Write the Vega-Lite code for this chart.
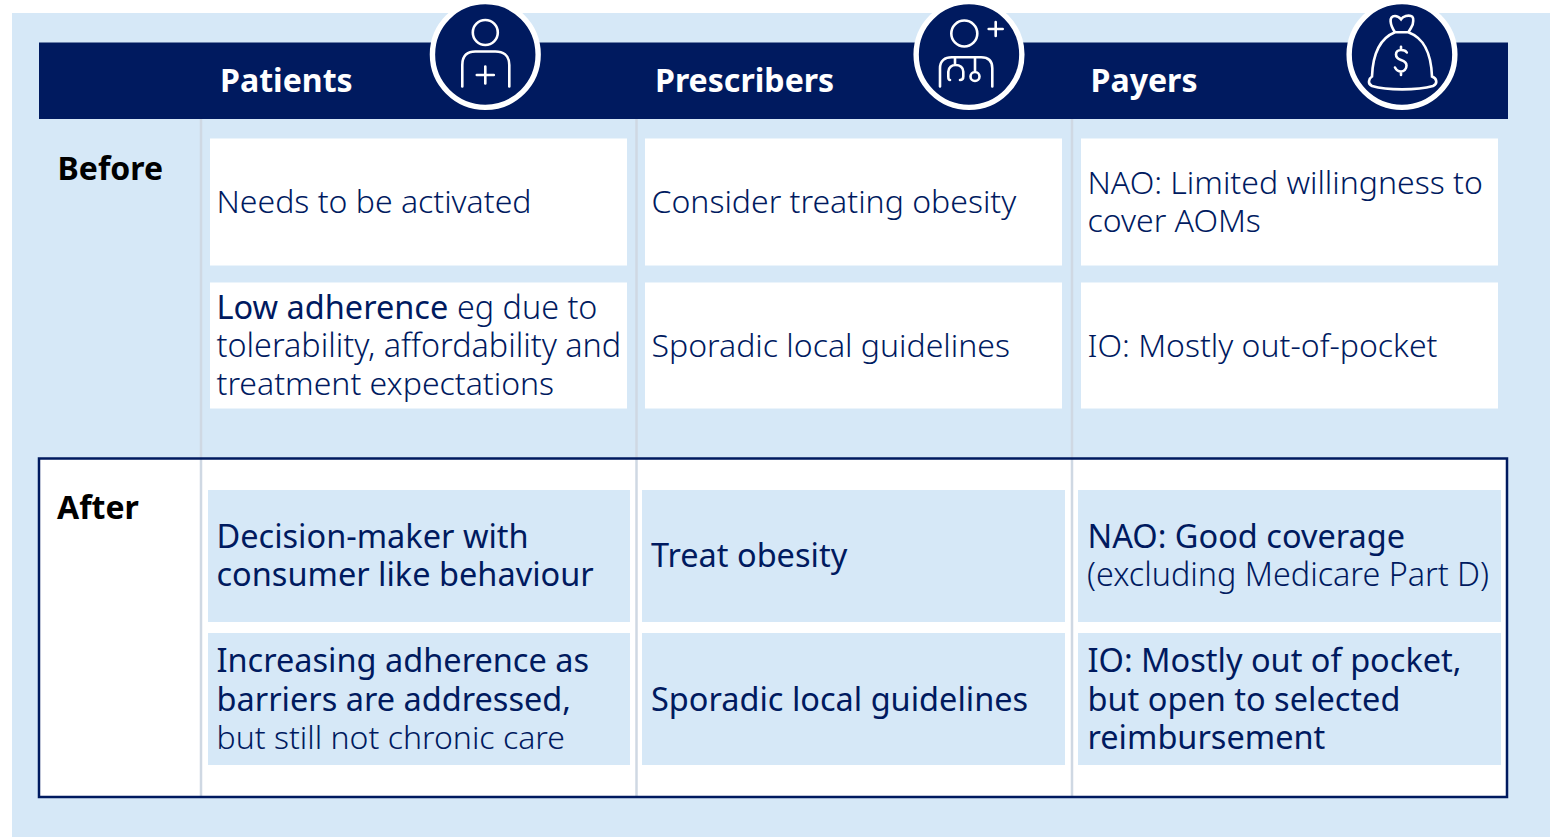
{
"$schema":"https://vega.github.io/schema/vega-lite/v6.json",
"width":1557,"height":837,"padding":0,
"autosize":{"type":"none"},
"background":"#ffffff",
"config":{"view":{"stroke":null},"font":"Noto Sans"},
"datasets":{
"blocks":[
{"part":"panel","x":12,"x2":1550,"y":13,"y2":837},
{"part":"header","x":39,"x2":1508,"y":42.5,"y2":119}
],
"box":[{"part":"after","x":39,"x2":1507,"y":458.5,"y2":797}],
"dividers":[{"x":201,"y":119,"y2":797},{"x":636.5,"y":119,"y2":797},{"x":1072,"y":119,"y2":797}],
"cells":[
{"part":"Before","x":210,"x2":627,"y":138.5,"y2":265.5},
{"part":"Before","x":645,"x2":1062,"y":138.5,"y2":265.5},
{"part":"Before","x":1081,"x2":1498,"y":138.5,"y2":265.5},
{"part":"Before","x":210,"x2":627,"y":282.5,"y2":408.5},
{"part":"Before","x":645,"x2":1062,"y":282.5,"y2":408.5},
{"part":"Before","x":1081,"x2":1498,"y":282.5,"y2":408.5},
{"part":"After","x":208,"x2":630,"y":490,"y2":622},
{"part":"After","x":642,"x2":1065,"y":490,"y2":622},
{"part":"After","x":1078,"x2":1501,"y":490,"y2":622},
{"part":"After","x":208,"x2":630,"y":633,"y2":765},
{"part":"After","x":642,"x2":1065,"y":633,"y2":765},
{"part":"After","x":1078,"x2":1501,"y":633,"y2":765}
],
"icons":[
{"role":"Patients","x":485.3,"y":54.5},
{"role":"Prescribers","x":969,"y":54.5},
{"role":"Payers","x":1402,"y":54.5}
],
"texts":[
{"kind":"head","text":"Patients","x":220,"y":92},
{"kind":"head","text":"Prescribers","x":655,"y":92},
{"kind":"head","text":"Payers","x":1090.5,"y":92},
{"kind":"row","text":"Before","x":57.5,"y":180},
{"kind":"row","text":"After","x":57,"y":519},
{"kind":"light","text":"Needs to be activated","x":216.5,"y":213},
{"kind":"light","text":"Consider treating obesity","x":651.5,"y":213},
{"kind":"light","text":"NAO: Limited willingness to","x":1087.5,"y":194},
{"kind":"light","text":"cover AOMs","x":1087.5,"y":232},
{"kind":"strong","text":"Low adherence","x":216.5,"y":319},
{"kind":"wide","text":"eg due to","x":457,"y":319},
{"kind":"wide","text":"tolerability, affordability and","x":216.5,"y":357},
{"kind":"light","text":"treatment expectations","x":216.5,"y":395},
{"kind":"light","text":"Sporadic local guidelines","x":651.5,"y":357},
{"kind":"light","text":"IO: Mostly out-of-pocket","x":1087.5,"y":357},
{"kind":"strong","text":"Decision-maker with","x":216.5,"y":548},
{"kind":"strong","text":"consumer like behaviour","x":216.5,"y":586},
{"kind":"strong","text":"Treat obesity","x":651,"y":567},
{"kind":"strong","text":"NAO: Good coverage","x":1087.5,"y":548},
{"kind":"wide","text":"(excluding Medicare Part D)","x":1087,"y":586},
{"kind":"strong","text":"Increasing adherence as","x":216.5,"y":672},
{"kind":"strong","text":"barriers are addressed,","x":216.5,"y":711},
{"kind":"light","text":"but still not chronic care","x":216.5,"y":749},
{"kind":"strong","text":"Sporadic local guidelines","x":651,"y":711},
{"kind":"strong","text":"IO: Mostly out of pocket,","x":1087.5,"y":672},
{"kind":"strong","text":"but open to selected","x":1087.5,"y":711},
{"kind":"strong","text":"reimbursement","x":1087.5,"y":749}
]
},
"data":{"name":"blocks"},
"encoding":{
"x":{"field":"x","type":"quantitative","scale":{"domain":[0,1557],"nice":false,"zero":false},"axis":null},
"y":{"field":"y","type":"quantitative","scale":{"domain":[837,0],"nice":false,"zero":false},"axis":null}
},
"layer":[
{"data":{"name":"blocks"},"mark":{"type":"rect"},
 "encoding":{"x2":{"field":"x2"},"y2":{"field":"y2"},
 "color":{"field":"part","type":"nominal","scale":{"domain":["panel","header","Before","After"],"range":["#d6e8f7","#001a5f","#ffffff","#d6e8f7"]},"legend":null}}},
{"data":{"name":"box"},"mark":{"type":"rect","fill":"#ffffff"},
 "encoding":{"x2":{"field":"x2"},"y2":{"field":"y2"}}},
{"data":{"name":"dividers"},"mark":{"type":"rule","stroke":"#cfd8e3","strokeWidth":2.5},
 "encoding":{"y2":{"field":"y2"}}},
{"data":{"name":"box"},"mark":{"type":"rect","fillOpacity":0,"fill":"#ffffff","stroke":"#001a5f","strokeWidth":2.5},
 "encoding":{"x2":{"field":"x2"},"y2":{"field":"y2"}}},
{"data":{"name":"cells"},"mark":{"type":"rect"},
 "encoding":{"x2":{"field":"x2"},"y2":{"field":"y2"},
 "color":{"field":"part","type":"nominal","scale":{"domain":["panel","header","Before","After"],"range":["#d6e8f7","#001a5f","#ffffff","#d6e8f7"]},"legend":null}}},
{"data":{"name":"icons"},"mark":{"type":"point","shape":"circle","filled":true,"fill":"#001a5f","stroke":"#ffffff","strokeWidth":5.4,"opacity":1,"size":11170}},
{"data":{"name":"icons"},"transform":[{"filter":"datum.role=='Patients'"}],
 "mark":{"type":"point","filled":false,"stroke":"#ffffff","strokeWidth":2.6,"opacity":1,"strokeCap":"round","size":4,
 "shape":"M-12.5,-22 A12.5,12.5 0 1,0 12.5,-22 A12.5,12.5 0 1,0 -12.5,-22 Z M-23,32 L-23,10.5 C-23,0 -17,-3 -10,-3 L10,-3 C17,-3 24,0 24,10.5 L24,32 M-8.5,20.5 L8.5,20.5 M0,12 L0,29"}},
{"data":{"name":"icons"},"transform":[{"filter":"datum.role=='Prescribers'"}],
 "mark":{"type":"point","filled":false,"stroke":"#ffffff","strokeWidth":2.6,"opacity":1,"strokeCap":"round","size":4,
 "shape":"M-17.7,-21 A13,13 0 1,0 8.3,-21 A13,13 0 1,0 -17.7,-21 Z M19.7,-25.5 L33.7,-25.5 M26.7,-32.5 L26.7,-18.5 M-29,32 L-29,13.8 C-29,6 -24,2.8 -17.3,2.8 L12,2.8 C19,2.8 23.3,6 23.3,13.8 L23.3,32 M-14,2.8 L-14,10.5 M-19,25.5 C-20.5,25.5 -20.7,24 -20.7,22 L-20.7,17.2 C-20.7,13 -17,10.5 -13.5,10.5 C-9,10.5 -5.7,13 -5.7,17.2 L-5.7,22 C-5.7,24 -6.5,25.5 -9,25.5 M6,2.8 L6,17.5 M1.5,22 A4.5,4.5 0 1,0 10.5,22 A4.5,4.5 0 1,0 1.5,22 Z"}},
{"data":{"name":"icons"},"transform":[{"filter":"datum.role=='Payers'"}],
 "mark":{"type":"point","filled":false,"stroke":"#ffffff","strokeWidth":2.6,"opacity":1,"strokeCap":"round","size":4,
 "shape":"M-7,-22.2 C-12,-29.5 -13.7,-38.5 -7,-38.5 C-3.7,-38.5 -1,-35.2 -1,-35.2 C1.3,-38.5 6.3,-39.5 9,-38.5 C12,-37.8 11.3,-32.8 10.7,-30 C9.5,-27 6.3,-22.2 6.3,-22.2 Z M-7,-22.2 C-20,-17 -29,-5 -30,22 C-33,24 -35,29 -30,31.5 C-15,36 15,36 31,31.5 C36,29 35,24 30,22 C29,-5 20,-17 6.3,-22.2 M4.8,-2 C4,-3.5 2,-4.5 -1,-4.5 C-4,-4.5 -6,-2.5 -6,0 C-6,3 -4,4.5 -1,5.5 C2,6.5 4.5,8 4.5,11 C4.5,14.5 2,17 -1,17 C-4,17 -6,15 -7,13 M-1,-7.8 L-1,-4.5 M-1,17 L-1,20.5"}},
{"data":{"name":"texts"},"transform":[{"filter":"datum.kind=='light'"}],
 "mark":{"type":"text","align":"left","baseline":"alphabetic","font":"Noto Sans","fontWeight":300,"fontSize":32,"fill":"#001a5f"},
 "encoding":{"text":{"field":"text"}}},
{"data":{"name":"texts"},"transform":[{"filter":"datum.kind=='wide'"}],
 "mark":{"type":"text","align":"left","baseline":"alphabetic","font":"Noto Sans","fontWeight":300,"fontSize":32.3,"fill":"#001a5f"},
 "encoding":{"text":{"field":"text"}}},
{"data":{"name":"texts"},"transform":[{"filter":"datum.kind=='strong'"}],
 "mark":{"type":"text","align":"left","baseline":"alphabetic","font":"Noto Sans","fontWeight":400,"fontSize":32.5,"fill":"#001a5f"},
 "encoding":{"text":{"field":"text"}}},
{"data":{"name":"texts"},"transform":[{"filter":"datum.kind=='head'"}],
 "mark":{"type":"text","align":"left","baseline":"alphabetic","font":"Noto Sans","fontWeight":700,"fontSize":32.1,"fill":"#ffffff"},
 "encoding":{"text":{"field":"text"}}},
{"data":{"name":"texts"},"transform":[{"filter":"datum.kind=='row'"}],
 "mark":{"type":"text","align":"left","baseline":"alphabetic","font":"Noto Sans","fontWeight":700,"fontSize":32,"fill":"#000000"},
 "encoding":{"text":{"field":"text"}}}
]
}
